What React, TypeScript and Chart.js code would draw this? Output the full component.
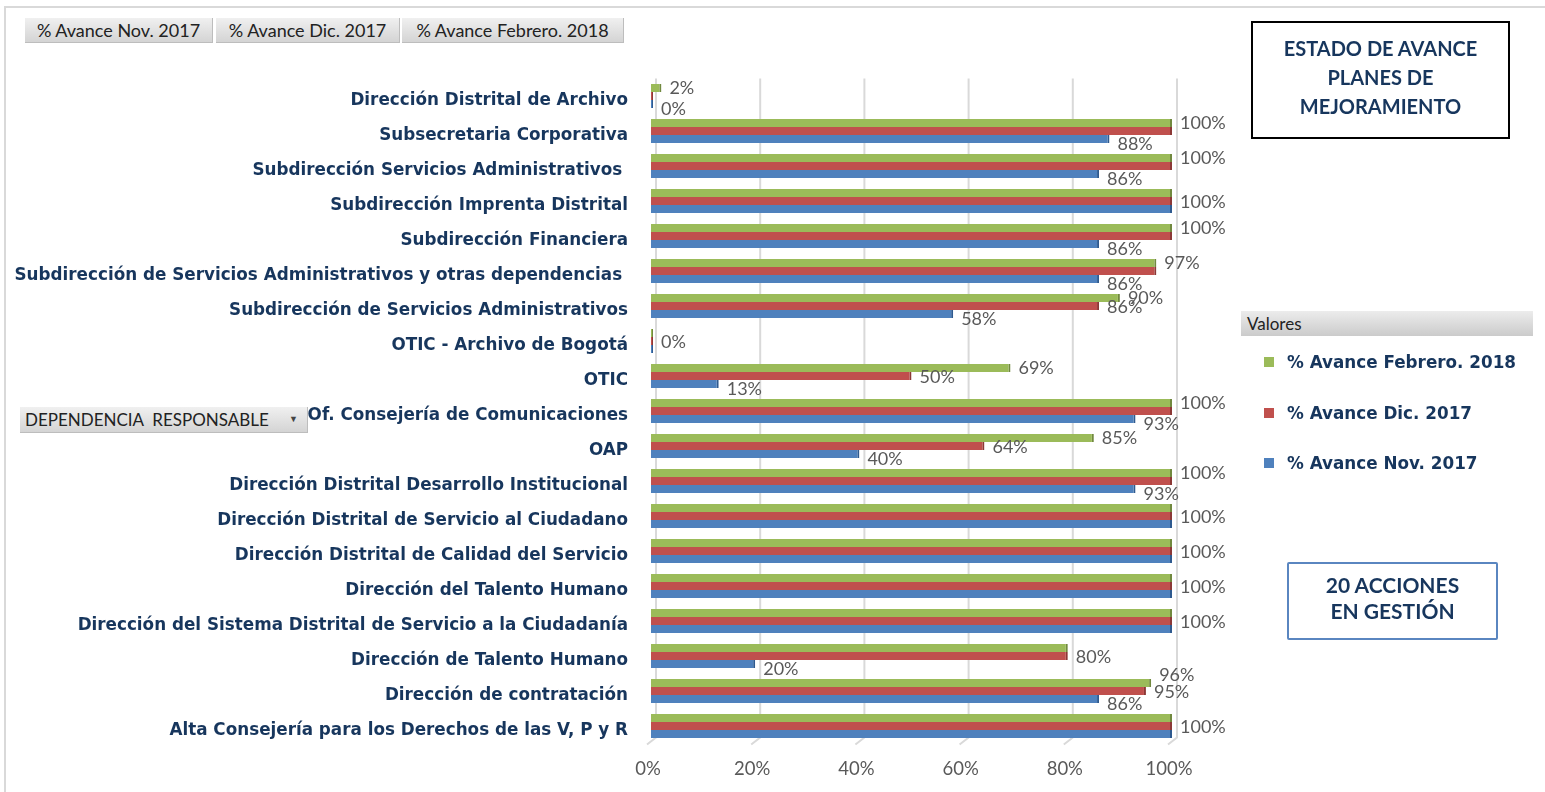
import React, { useEffect, useRef } from "react";
import { Chart, registerables } from "chart.js";

Chart.register(...registerables);

const categories = [
  "Dirección Distrital de Archivo",
  "Subsecretaria Corporativa",
  "Subdirección Servicios Administrativos ",
  "Subdirección Imprenta Distrital",
  "Subdirección Financiera",
  "Subdirección de Servicios Administrativos y otras dependencias ",
  "Subdirección de Servicios Administrativos",
  "OTIC - Archivo de Bogotá",
  "OTIC",
  "Of. Consejería de Comunicaciones",
  "OAP",
  "Dirección Distrital Desarrollo Institucional",
  "Dirección Distrital de Servicio al Ciudadano",
  "Dirección Distrital de Calidad del Servicio",
  "Dirección del Talento Humano",
  "Dirección del Sistema Distrital de Servicio a la Ciudadanía",
  "Dirección de Talento Humano",
  "Dirección de contratación",
  "Alta Consejería para los Derechos de las V, P y R",
];

const seriesNames = ["% Avance Febrero. 2018", "% Avance Dic. 2017", "% Avance Nov. 2017"];
const febValues = [2, 100, 100, 100, 100, 97, 90, 0, 69, 100, 85, 100, 100, 100, 100, 100, 80, 96, 100];
const dicValues = [0, 100, 100, 100, 100, 97, 86, 0, 50, 100, 64, 100, 100, 100, 100, 100, 80, 95, 100];
const novValues = [0, 88, 86, 100, 86, 86, 58, 0, 13, 93, 40, 93, 100, 100, 100, 100, 20, 86, 100];

// which data labels Excel showed (1 = shown)
const febShown = [1, 1, 1, 0, 1, 1, 1, 0, 1, 1, 1, 1, 0, 0, 0, 0, 0, 1, 0];
const dicShown = [0, 0, 0, 1, 0, 0, 1, 1, 1, 0, 1, 0, 1, 1, 1, 1, 1, 1, 1];
const novShown = [1, 1, 1, 0, 1, 1, 1, 0, 1, 1, 1, 1, 0, 0, 0, 0, 1, 1, 0];

const xTickValues = [0, 20, 40, 60, 80, 100];
const fieldButtons = ["% Avance Nov. 2017", "% Avance Dic. 2017", "% Avance Febrero. 2018"];

const fillColors = ["#9bbb59", "#c0504d", "#4f81bd"];
const edgeColors = ["#71893f", "#8c3836", "#2f5a8f"];
const NAVY = "#17365d";
const labelDy = [0, 1, 5];

const gridPlugin = {
  id: "grid3d",
  beforeDatasetsDraw(chart: any) {
    const { ctx, chartArea, scales } = chart;
    const x = scales.x;
    ctx.save();
    ctx.strokeStyle = "#d9d9d9";
    ctx.lineWidth = 2;
    for (const t of xTickValues) {
      const px = x.getPixelForValue(t);
      ctx.beginPath();
      ctx.moveTo(px + 5, chartArea.top);
      ctx.lineTo(px + 5, chartArea.bottom - 6);
      ctx.lineTo(px - 4, chartArea.bottom + 1);
      ctx.stroke();
    }
    ctx.restore();
  },
};

const categoryLabelPlugin = {
  id: "categoryLabels",
  afterDraw(chart: any) {
    const { ctx, scales } = chart;
    const y = scales.y;
    ctx.save();
    ctx.font = "bold 16.8px 'DejaVu Sans'";
    ctx.fillStyle = NAVY;
    ctx.textAlign = "right";
    ctx.textBaseline = "middle";
    categories.forEach((c, i) => {
      ctx.fillText(c, chart.chartArea.left - 23, y.getPixelForValue(i) + 5);
    });
    ctx.restore();
  },
};

const labelPlugin = {
  id: "valueLabels",
  afterDatasetsDraw(chart: any) {
    const { ctx } = chart;
    const shown = [febShown, dicShown, novShown];
    ctx.save();
    ctx.font = "18px Lato";
    ctx.fillStyle = "#595959";
    ctx.textAlign = "left";
    ctx.textBaseline = "middle";
    const metas = chart.data.datasets.map((_: any, di: number) => chart.getDatasetMeta(di));
    categories.forEach((_, i) => {
      const pos = metas.map((m: any, di: number) => ({ x: m.data[i].x + 8, y: m.data[i].y + labelDy[di] }));
      // avoid green/red label collision by lifting the green one
      if (shown[0][i] && shown[1][i] && Math.abs(pos[0].x - pos[1].x) < 12) {
        pos[0].y = pos[1].y - 17;
      }
      for (let di = 0; di < 3; di++) {
        if (!shown[di][i]) continue;
        ctx.fillText(chart.data.datasets[di].data[i] + "%", pos[di].x, pos[di].y);
      }
    });
    ctx.restore();
  },
};

export default function App() {
  const ref = useRef<HTMLCanvasElement>(null);

  useEffect(() => {
    const values = [febValues, dicValues, novValues];
    const chart = new Chart(ref.current as HTMLCanvasElement, {
      type: "bar",
      data: {
        labels: categories,
        datasets: values.map((v, i) => ({
          label: seriesNames[i],
          data: v,
          backgroundColor: fillColors[i],
          borderColor: edgeColors[i],
          borderWidth: { top: 0, right: 2, bottom: 0, left: 0 },
          borderSkipped: "start",
          categoryPercentage: 0.68,
          barPercentage: 1,
          minBarLength: 2,
        })),
      },
      options: {
        indexAxis: "y",
        responsive: false,
        animation: false,
        layout: { padding: { top: 78.5, right: 373, bottom: 0, left: 0 } },
        plugins: { legend: { display: false }, tooltip: { enabled: false }, title: { display: false } },
        scales: {
          x: {
            min: 0,
            max: 100,
            afterBuildTicks: (scale: any) => {
              scale.ticks = xTickValues.map((v) => ({ value: v }));
            },
            ticks: {
              callback: (v: any) => v + "%",
              color: "#595959",
              font: { family: "Lato", size: 18.5 },
              padding: 6,
              labelOffset: -3,
              maxRotation: 0,
            },
            grid: { display: false },
            border: { display: false },
            afterFit: (scale: any) => {
              scale.height = 48.5;
            },
          },
          y: {
            ticks: { display: false },
            grid: { display: false },
            border: { display: false },
            afterFit: (scale: any) => {
              scale.width = 651;
            },
          },
        },
      },
      plugins: [gridPlugin, labelPlugin, categoryLabelPlugin],
    } as any);
    return () => chart.destroy();
  }, []);

  const btnBase: React.CSSProperties = {
    position: "absolute",
    top: 18,
    height: 25,
    background: "linear-gradient(#f0f0f0, #d4d4d4)",
    borderRight: "1px solid #bdbdbd",
    borderBottom: "1px solid #bdbdbd",
    fontFamily: "Lato",
    fontSize: 18,
    color: "#222",
    display: "flex",
    alignItems: "center",
    justifyContent: "center",
    boxSizing: "border-box",
  };
  const btnPos = [
    { left: 25, width: 188 },
    { left: 216, width: 184 },
    { left: 402, width: 222 },
  ];

  return (
    <div
      style={{
        position: "fixed",
        left: 0,
        top: 0,
        width: 1545,
        height: 792,
        background: "#fff",
        overflow: "hidden",
      }}
    >
      <div
        style={{
          position: "absolute",
          left: 4,
          top: 6,
          right: -4,
          bottom: -4,
          borderTop: "2px solid #d9d9d9",
          borderLeft: "2px solid #d9d9d9",
        }}
      />
      <canvas
        ref={ref}
        width={1545}
        height={792}
        style={{ position: "absolute", left: 0, top: 0, display: "block" }}
      />
      {fieldButtons.map((t, i) => (
        <div key={t} style={{ ...btnBase, ...btnPos[i] }}>
          {t}
        </div>
      ))}
      <div
        style={{
          ...btnBase,
          top: 407,
          left: 20,
          width: 288,
          height: 26,
          justifyContent: "flex-start",
          paddingLeft: 5,
          fontSize: 17,
        }}
      >
        <span style={{ whiteSpace: "pre" }}>DEPENDENCIA  RESPONSABLE</span>
        <span style={{ position: "absolute", left: 269, top: 6, fontSize: 9, color: "#444" }}>▼</span>
      </div>

      <div
        style={{
          position: "absolute",
          left: 1251,
          top: 21,
          width: 259,
          height: 118,
          border: "2px solid #000",
          boxSizing: "border-box",
          display: "flex",
          alignItems: "center",
          justifyContent: "center",
          textAlign: "center",
          fontFamily: "Lato",
          fontWeight: "bold",
          fontSize: 20,
          lineHeight: "29px",
          color: NAVY,
          paddingBottom: 6,
        }}
      >
        <div>
          ESTADO DE AVANCE
          <br />
          PLANES DE
          <br />
          MEJORAMIENTO
        </div>
      </div>

      <div
        style={{
          position: "absolute",
          left: 1241,
          top: 311,
          width: 292,
          height: 25,
          background: "linear-gradient(#ececec, #cbcbcb)",
          fontFamily: "Lato",
          fontSize: 17,
          color: "#222",
          display: "flex",
          alignItems: "center",
          paddingLeft: 6,
          boxSizing: "border-box",
        }}
      >
        Valores
      </div>
      {seriesNames.map((n, i) => (
        <div
          key={n}
          style={{
            position: "absolute",
            left: 1264,
            top: 350 + i * 50.5,
            height: 24,
            display: "flex",
            alignItems: "center",
            fontFamily: "DejaVu Sans",
            fontWeight: "bold",
            fontSize: 16.8,
            color: NAVY,
            whiteSpace: "nowrap",
          }}
        >
          <span
            style={{
              display: "inline-block",
              width: 10,
              height: 10,
              background: fillColors[i],
              marginRight: 13,
            }}
          />
          {n}
        </div>
      ))}

      <div
        style={{
          position: "absolute",
          left: 1287,
          top: 562,
          width: 211,
          height: 78,
          border: "2px solid #5a86c0",
          borderRadius: 2,
          boxSizing: "border-box",
          display: "flex",
          alignItems: "center",
          justifyContent: "center",
          textAlign: "center",
          fontFamily: "Lato",
          fontWeight: "bold",
          fontSize: 21,
          lineHeight: "26px",
          color: NAVY,
          paddingBottom: 6,
        }}
      >
        <div>
          20 ACCIONES
          <br />
          EN GESTIÓN
        </div>
      </div>
    </div>
  );
}
